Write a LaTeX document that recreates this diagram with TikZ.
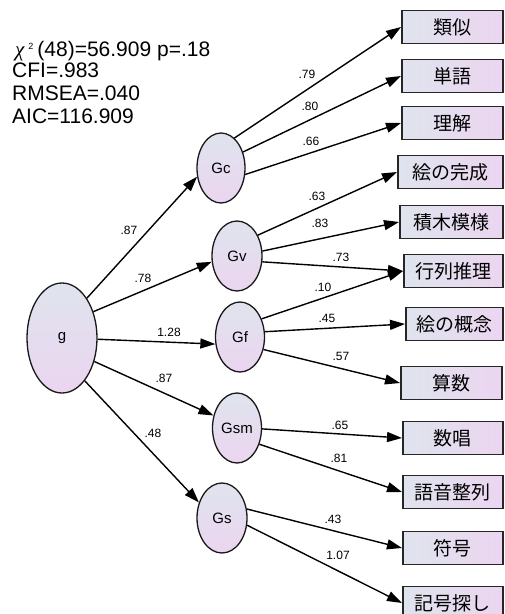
\documentclass[tikz,border=0pt]{standalone}
\usepackage{fontspec}
\setmainfont{Liberation Sans}
\newfontfamily\jpfont{Noto Sans CJK JP}
\newfontfamily\chifont{Liberation Serif}
\usetikzlibrary{shapes.geometric,arrows.meta}
\definecolor{fillA}{HTML}{DFE4EE}
\definecolor{fillB}{HTML}{EBD5F0}
\tikzset{
  latent/.style={ellipse, draw=black!90, line width=1.3pt, top color=fillA,
    bottom color=fillB, inner sep=0pt, font=\fontsize{15}{15}\selectfont},
  observed/.style={rectangle, draw=black!85, line width=1.8pt, left color=fillA,
    right color=fillB, minimum height=33pt, inner sep=0pt, anchor=west,
    font=\jpfont\fontsize{19}{19}\selectfont},
  loading/.style={line width=1.4pt, -{Triangle[length=15pt,width=10pt]}},
  coef/.style={font=\fontsize{12}{12}\selectfont, inner sep=0pt},
  fit/.style={anchor=base west, inner sep=0pt, font=\fontsize{21}{21}\selectfont},
}
\begin{document}
\begin{tikzpicture}[x=1pt,y=-1pt]
\useasboundingbox (0,0) rectangle (505,614);
\fill[white] (0,0) rectangle (505,614);

% model fit summary
\node[fit] (chi) at (15,56) {{\chifont\itshape χ}\hspace{4pt}{\fontsize{9}{9}\selectfont\raisebox{7pt}{2}}\hspace{4pt}(48)=56.909 p=.18};
\node[fit] (cfi) at (12,77) {CFI=.983};
\node[fit] (rmsea) at (12,100) {RMSEA=.040};
\node[fit] (aic) at (12,123) {AIC=116.909};

% latent factors
\node[latent, minimum width=70pt, minimum height=110pt] (g) at (62,338) {g};
\node[latent, minimum width=48pt, minimum height=70pt] (Gc) at (221,168) {Gc};
\node[latent, minimum width=50pt, minimum height=70pt] (Gv) at (237,256) {Gv};
\node[latent, minimum width=49pt, minimum height=70pt] (Gf) at (240,337) {Gf};
\node[latent, minimum width=49pt, minimum height=70pt] (Gsm) at (237,428) {Gsm};
\node[latent, minimum width=50pt, minimum height=70pt] (Gs) at (222,518) {Gs};

% subtests
\begin{scope}[every node/.style={observed}]
\node[minimum width=101pt] (t1) at (401,27) {類似};
\node[minimum width=101pt] (t2) at (401,76) {単語};
\node[minimum width=101pt] (t3) at (401,123) {理解};
\node[minimum width=105pt] (t4) at (397,172) {絵の完成};
\node[minimum width=103pt] (t5) at (399,222) {積木模様};
\node[minimum width=99pt] (t6) at (403,271) {行列推理};
\node[minimum width=97pt] (t7) at (405,324) {絵の概念};
\node[minimum width=101pt] (t8) at (400,383) {算数};
\node[minimum width=100pt] (t9) at (402,438) {数唱};
\node[minimum width=100pt] (t10) at (402,492) {語音整列};
\node[minimum width=100pt] (t11) at (402,548) {符号};
\node[minimum width=100pt] (t12) at (402,603) {記号探し};
\end{scope}

% second-order loadings
\draw[loading] (g.58) -- (Gc.200);
\draw[loading] (g.40) -- (Gv.193);
\draw[loading] (g.-2) -- (Gf.196);
\draw[loading] (g.-36) -- (Gsm.152);
\draw[loading] (g.-62) -- (Gs.146);

% first-order loadings
\draw[loading] (Gc.66) -- (t1.west);
\draw[loading] (Gc.36) -- (t2.west);
\draw[loading] (Gc.-15) -- (t3.west);
\draw[loading] (Gv.45) -- (t4.west);
\draw[loading] (Gv.11) -- (t5.west);
\draw[loading] (Gv.-13) -- (t6.west);
\draw[loading] (Gf.40) -- (t6.west);
\draw[loading] (Gf.12) -- (t7.west);
\draw[loading] (Gf.-28) -- (t8.west);
\draw[loading] (Gsm.-2) -- (t9.west);
\draw[loading] (Gsm.-36) -- (t10.west);
\draw[loading] (Gs.20) -- (t11.west);
\draw[loading] (Gs.-16) -- (t12.west);

% coefficients
\node[coef] (c1) at (129,230) {.87};
\node[coef] (c2) at (143,278) {.78};
\node[coef] (c3) at (169,332) {1.28};
\node[coef] (c4) at (164,378) {.87};
\node[coef] (c5) at (153,433) {.48};
\node[coef] (c6) at (307,74) {.79};
\node[coef] (c7) at (310,106) {.80};
\node[coef] (c8) at (311,141) {.66};
\node[coef] (c9) at (317,196) {.63};
\node[coef] (c10) at (320,223) {.83};
\node[coef] (c11) at (341,257) {.73};
\node[coef] (c12) at (323,287) {.10};
\node[coef] (c13) at (327,318) {.45};
\node[coef] (c14) at (341,356) {.57};
\node[coef] (c15) at (340,425) {.65};
\node[coef] (c16) at (339,458) {.81};
\node[coef] (c17) at (333,519) {.43};
\node[coef] (c18) at (338,555) {1.07};
\end{tikzpicture}
\end{document}
